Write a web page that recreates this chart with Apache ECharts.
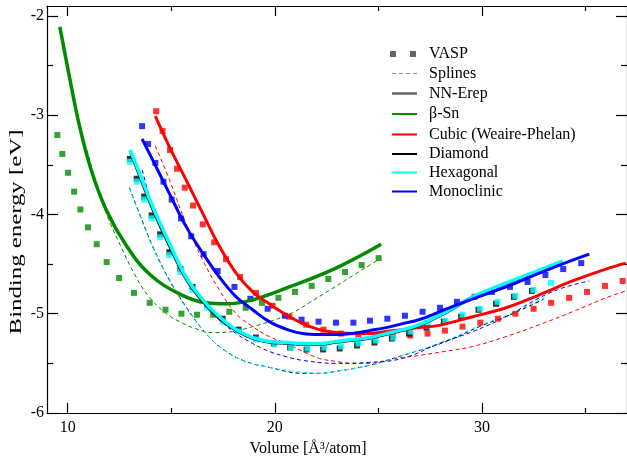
<!DOCTYPE html>
<html><head><meta charset="utf-8">
<script src="https://cdn.jsdelivr.net/npm/echarts@6/dist/echarts.min.js"></script>
<style>html,body{margin:0;padding:0;background:#fff}#c{width:627px;height:460px}</style>
</head><body><div id="c"></div>
<script>
// ---- axis ticks ----
const xMajorTicks = [10, 20, 30];
const xMinorTicks = [15, 25, 35];
const yMajorTicks = [-6, -5, -4, -3, -2];
const yMinorTicks = [-5.5, -4.5, -3.5, -2.5];
const xTitle = 'Volume [Å³/atom]';
const yTitle = 'Binding energy [eV]';
const legendLabels = ['VASP', 'Splines', 'NN-Erep', 'β-Sn', 'Cubic (Weaire-Phelan)', 'Diamond', 'Hexagonal', 'Monoclinic'];

// ---- β-Sn ----
const betaSnVasp = [[9.50,-3.20],[9.74,-3.39],[10.02,-3.58],[10.31,-3.77],[10.61,-3.95],[10.98,-4.13],[11.40,-4.30],[11.88,-4.48],[12.48,-4.64],[13.20,-4.79],[13.96,-4.89],[14.72,-4.96],[15.49,-5.00],[16.24,-5.01],[17.02,-5.01],[17.80,-4.98],[18.59,-4.94],[19.38,-4.89],[20.17,-4.84],[20.97,-4.78],[21.78,-4.72],[22.58,-4.65],[23.39,-4.58],[24.19,-4.51],[25.01,-4.44]];
const betaSnNN = [[9.62,-2.11],[10.08,-2.61],[10.56,-3.10],[11.13,-3.55],[11.85,-3.95],[12.82,-4.31],[13.94,-4.60],[15.39,-4.80],[16.68,-4.89],[17.64,-4.90],[18.93,-4.86],[20.70,-4.73],[22.95,-4.54],[25.13,-4.30]];
const betaSnSpline = [[9.62,-2.11],[10.08,-2.62],[10.56,-3.10],[10.95,-3.37],[11.43,-3.72],[11.92,-4.02],[12.56,-4.32],[13.20,-4.59],[13.85,-4.81],[14.65,-4.98],[15.40,-5.08],[16.18,-5.15],[17.00,-5.19],[17.95,-5.18],[18.93,-5.13],[19.73,-5.08],[20.85,-4.99],[21.66,-4.89],[23.35,-4.67],[25.04,-4.45]];

// ---- Cubic (Weaire-Phelan) ----
const cubicVasp = [[14.27,-2.96],[14.58,-3.16],[14.94,-3.35],[15.28,-3.54],[15.65,-3.73],[16.05,-3.91],[16.52,-4.10],[17.07,-4.28],[17.64,-4.45],[18.32,-4.63],[19.09,-4.79],[19.89,-4.92],[20.70,-5.03],[21.51,-5.11],[22.34,-5.16],[23.19,-5.20],[24.03,-5.21],[24.85,-5.22],[25.70,-5.22],[26.54,-5.22],[27.37,-5.20],[28.21,-5.17],[29.06,-5.13],[29.92,-5.09],[30.77,-5.05],[31.61,-5.00],[32.49,-4.95],[33.34,-4.89],[34.21,-4.84],[35.07,-4.78],[35.94,-4.72],[36.79,-4.67]];
const cubicNN = [[14.23,-3.01],[14.91,-3.32],[15.71,-3.65],[16.52,-3.99],[17.32,-4.32],[18.13,-4.59],[18.93,-4.78],[19.73,-4.90],[20.54,-5.01],[21.34,-5.10],[22.15,-5.16],[22.95,-5.19],[23.75,-5.20],[24.56,-5.20],[25.37,-5.18],[26.17,-5.16],[26.97,-5.14],[27.86,-5.12],[29.55,-5.03],[31.16,-4.94],[32.77,-4.81],[34.37,-4.67],[35.98,-4.55],[36.95,-4.49]];
const cubicSpline = [[14.23,-3.31],[14.91,-3.65],[15.71,-4.09],[16.52,-4.46],[17.32,-4.76],[18.13,-5.00],[18.93,-5.13],[19.73,-5.23],[20.70,-5.31],[21.34,-5.38],[22.15,-5.45],[22.95,-5.48],[23.75,-5.50],[24.56,-5.50],[25.37,-5.47],[26.17,-5.44],[26.97,-5.42],[28.18,-5.38],[29.55,-5.33],[31.16,-5.23],[32.77,-5.11],[34.37,-4.98],[35.98,-4.84],[36.95,-4.77]];

// ---- Diamond ----
const diamondVasp = [[13.00,-3.44],[13.33,-3.64],[13.69,-3.82],[14.05,-4.01],[14.46,-4.20],[14.91,-4.38],[15.44,-4.55],[16.02,-4.73],[16.73,-4.91],[17.48,-5.05],[18.25,-5.16],[19.09,-5.24],[19.95,-5.30],[20.74,-5.34],[21.53,-5.36],[22.33,-5.36],[23.13,-5.35],[23.97,-5.32],[24.81,-5.29],[25.65,-5.25],[26.48,-5.20],[27.32,-5.14],[28.16,-5.08],[28.99,-5.03],[29.83,-4.96],[30.68,-4.90],[31.54,-4.83],[32.41,-4.77]];
const diamondNN = [[13.03,-3.38],[13.46,-3.61],[14.10,-3.95],[14.91,-4.32],[15.71,-4.65],[16.52,-4.88],[17.32,-5.05],[18.13,-5.17],[18.93,-5.25],[19.73,-5.29],[20.60,-5.30],[21.34,-5.31],[22.15,-5.31],[22.95,-5.29],[23.75,-5.27],[24.56,-5.25],[25.37,-5.21],[26.17,-5.17],[26.97,-5.12],[28.18,-5.00],[29.55,-4.84],[31.16,-4.70],[32.77,-4.57],[33.89,-4.48]];
const diamondSpline = [[12.98,-3.73],[13.46,-3.99],[14.10,-4.32],[14.91,-4.66],[15.71,-4.93],[16.52,-5.16],[17.32,-5.33],[18.45,-5.47],[19.73,-5.54],[21.34,-5.60],[22.15,-5.60],[22.95,-5.58],[24.56,-5.52],[26.17,-5.42],[28.26,-5.28],[29.87,-5.13],[31.48,-5.00],[33.00,-4.85]];

// ---- Hexagonal ----
const hexVasp = [[13.00,-3.47],[13.33,-3.67],[13.69,-3.85],[14.05,-4.04],[14.46,-4.23],[14.91,-4.41],[15.44,-4.58],[16.02,-4.76],[16.73,-4.94],[17.48,-5.08],[18.25,-5.18],[19.09,-5.26],[19.98,-5.31],[20.78,-5.34],[21.58,-5.35],[22.39,-5.34],[23.19,-5.33],[24.04,-5.30],[24.88,-5.27],[25.72,-5.24],[26.55,-5.18],[27.39,-5.12],[28.23,-5.07],[29.06,-5.01],[29.90,-4.95],[30.75,-4.88],[31.61,-4.82],[32.48,-4.76],[33.33,-4.69]];
const hexNN = [[13.01,-3.35],[13.46,-3.58],[14.10,-3.92],[14.91,-4.29],[15.71,-4.63],[16.52,-4.86],[17.32,-5.03],[18.13,-5.16],[18.93,-5.24],[19.73,-5.28],[20.60,-5.29],[21.34,-5.30],[22.15,-5.30],[22.95,-5.28],[23.75,-5.26],[24.56,-5.24],[25.37,-5.20],[26.17,-5.16],[26.97,-5.11],[28.18,-4.99],[29.55,-4.83],[31.16,-4.69],[32.77,-4.56],[33.89,-4.47]];
const hexSpline = [[12.99,-3.74],[13.46,-4.00],[14.10,-4.33],[14.91,-4.67],[15.71,-4.94],[16.52,-5.16],[17.32,-5.33],[18.45,-5.47],[19.73,-5.54],[21.34,-5.59],[22.15,-5.60],[22.95,-5.58],[24.56,-5.52],[26.17,-5.42],[28.26,-5.27],[29.87,-5.12],[31.48,-4.99],[33.05,-4.83]];

// ---- Monoclinic ----
const monoVasp = [[13.59,-3.11],[13.88,-3.29],[14.23,-3.48],[14.62,-3.67],[15.02,-3.85],[15.47,-4.04],[15.96,-4.22],[16.56,-4.40],[17.24,-4.57],[18.05,-4.73],[18.82,-4.85],[19.65,-4.95],[20.48,-5.02],[21.29,-5.06],[22.11,-5.08],[22.95,-5.09],[23.79,-5.09],[24.59,-5.07],[25.43,-5.05],[26.28,-5.02],[27.13,-4.98],[27.97,-4.94],[28.79,-4.88],[29.64,-4.83],[30.48,-4.78],[31.35,-4.73],[32.20,-4.68],[33.06,-4.61],[33.92,-4.55],[34.79,-4.49]];
const monoNN = [[13.59,-3.24],[14.10,-3.45],[14.91,-3.79],[15.71,-4.12],[16.52,-4.39],[17.32,-4.63],[18.13,-4.83],[18.93,-4.96],[19.73,-5.08],[20.60,-5.16],[21.34,-5.20],[22.15,-5.21],[22.95,-5.21],[23.75,-5.20],[24.56,-5.17],[25.37,-5.14],[26.17,-5.10],[26.97,-5.06],[28.18,-4.96],[29.55,-4.85],[31.16,-4.73],[32.77,-4.59],[34.37,-4.46],[35.18,-4.40]];
const monoSpline = [[13.60,-3.55],[14.10,-3.92],[14.91,-4.31],[15.71,-4.64],[16.52,-4.88],[17.32,-5.06],[18.13,-5.20],[18.93,-5.30],[19.73,-5.38],[20.50,-5.43],[21.34,-5.47],[22.95,-5.50],[24.56,-5.49],[26.17,-5.45],[27.94,-5.30],[29.55,-5.18],[31.16,-5.03],[32.77,-4.84],[33.89,-4.74],[35.18,-4.67]];

const FONT = 'Liberation Serif';
const colors = { betaSn: '#008b00', cubic: '#ff0000', diamond: '#000000', hex: '#00ffff', mono: '#0000ff' };

const chart = echarts.init(document.getElementById('c'), null, { renderer: 'canvas' });

function xAxisDef(position, ticks, len, withLabels, withLine, extra) {
  return Object.assign({
    type: 'value', position: position, min: 9, max: 37, gridIndex: 0,
    axisLine: { show: withLine, onZero: false, lineStyle: { color: '#000', width: 1.2 } },
    axisTick: { show: true, inside: true, length: len, customValues: ticks, lineStyle: { color: '#000', width: 1.2 } },
    axisLabel: withLabels ? { show: true, customValues: ticks, color: '#000', fontFamily: FONT, fontSize: 16, margin: 7 } : { show: false },
    splitLine: { show: false }
  }, extra || {});
}
function yAxisDef(position, ticks, len, withLabels, withLine, extra) {
  return Object.assign({
    type: 'value', position: position, min: -6, max: -1.9, gridIndex: 0,
    axisLine: { show: withLine, onZero: false, lineStyle: { color: '#000', width: 1.2 } },
    axisTick: { show: true, inside: true, length: len, customValues: ticks, lineStyle: { color: '#000', width: 1.2 } },
    axisLabel: withLabels ? { show: true, customValues: ticks, color: '#000', fontFamily: FONT, fontSize: 16, margin: 3 } : { show: false },
    splitLine: { show: false }
  }, extra || {});
}

function spline(data, color) {
  return { type: 'line', data: data, smooth: 0.4, symbol: 'none', silent: true,
    lineStyle: { color: color, width: 1, type: [4, 3] }, z: 2 };
}
function vasp(data, color) {
  return { type: 'scatter', data: data, symbol: 'rect', symbolSize: 6, silent: true,
    itemStyle: { color: color }, z: 3 };
}
function nn(data, color, w) {
  return { type: 'line', data: data, smooth: 0.4, symbol: 'none', silent: true,
    lineStyle: { color: color, width: w }, z: 4 };
}

// legend + y title drawn as graphic
const legendGraphics = [];
const lx0 = 392, lx1 = 417, tx = 429;
const ly = [54, 73.5, 93.5, 114, 134.5, 154, 172.5, 191.5];
legendGraphics.push({ type: 'rect', shape: { x: 390, y: ly[0] - 3, width: 6, height: 6 }, style: { fill: '#666' } });
legendGraphics.push({ type: 'rect', shape: { x: 410, y: ly[0] - 3, width: 6, height: 6 }, style: { fill: '#666' } });
legendGraphics.push({ type: 'line', shape: { x1: lx0, y1: ly[1], x2: lx1, y2: ly[1] }, style: { stroke: '#999', lineWidth: 1, lineDash: [4, 3] } });
legendGraphics.push({ type: 'line', shape: { x1: lx0, y1: ly[2], x2: lx1, y2: ly[2] }, style: { stroke: '#666', lineWidth: 2.5 } });
const legendColors = [colors.betaSn, colors.cubic, colors.diamond, colors.hex, colors.mono];
legendColors.forEach((c, i) => {
  legendGraphics.push({ type: 'line', shape: { x1: lx0, y1: ly[i + 3], x2: lx1, y2: ly[i + 3] }, style: { stroke: c, lineWidth: 2 } });
});
legendLabels.forEach((t, i) => {
  legendGraphics.push({ type: 'text', x: tx, y: ly[i], style: { text: t, fill: '#000', font: '16px "Liberation Serif"', verticalAlign: 'middle' } });
});
legendGraphics.push({ type: 'text', x: 17, y: 232, rotation: Math.PI / 2, scaleX: 1.55,
  style: { text: yTitle, fill: '#000', font: '16px "Liberation Serif"', align: 'center', verticalAlign: 'middle' } });

chart.setOption({
  animation: false,
  backgroundColor: '#fff',
  grid: { left: 47, right: 0, top: 6, bottom: 47, containLabel: false, outerBoundsMode: 'none' },
  xAxis: [
    xAxisDef('bottom', xMajorTicks, 10, true, true, {
      name: xTitle, nameLocation: 'middle', nameGap: 23,
      nameTextStyle: { color: '#000', fontFamily: FONT, fontSize: 16, padding: [0, 58, 0, 0] } }),
    xAxisDef('bottom', xMinorTicks, 5, false, false),
    xAxisDef('top', xMajorTicks, 10, false, true),
    xAxisDef('top', xMinorTicks, 5, false, false)
  ],
  yAxis: [
    yAxisDef('left', yMajorTicks, 11, true, true),
    yAxisDef('left', yMinorTicks, 6, false, false),
    yAxisDef('right', yMajorTicks, 11, false, true),
    yAxisDef('right', yMinorTicks, 6, false, false)
  ],
  graphic: legendGraphics,
  series: [
    spline(betaSnSpline, colors.betaSn),
    spline(cubicSpline, colors.cubic),
    spline(diamondSpline, colors.diamond),
    spline(hexSpline, colors.hex),
    spline(monoSpline, colors.mono),
    vasp(betaSnVasp, colors.betaSn),
    vasp(cubicVasp, colors.cubic),
    vasp(diamondVasp, colors.diamond),
    vasp(hexVasp, colors.hex),
    vasp(monoVasp, colors.mono),
    nn(betaSnNN, colors.betaSn, 3.5),
    nn(cubicNN, colors.cubic, 3),
    nn(diamondNN, colors.diamond, 2.5),
    nn(hexNN, colors.hex, 3.5),
    nn(monoNN, colors.mono, 3)
  ]
});
</script></body></html>
